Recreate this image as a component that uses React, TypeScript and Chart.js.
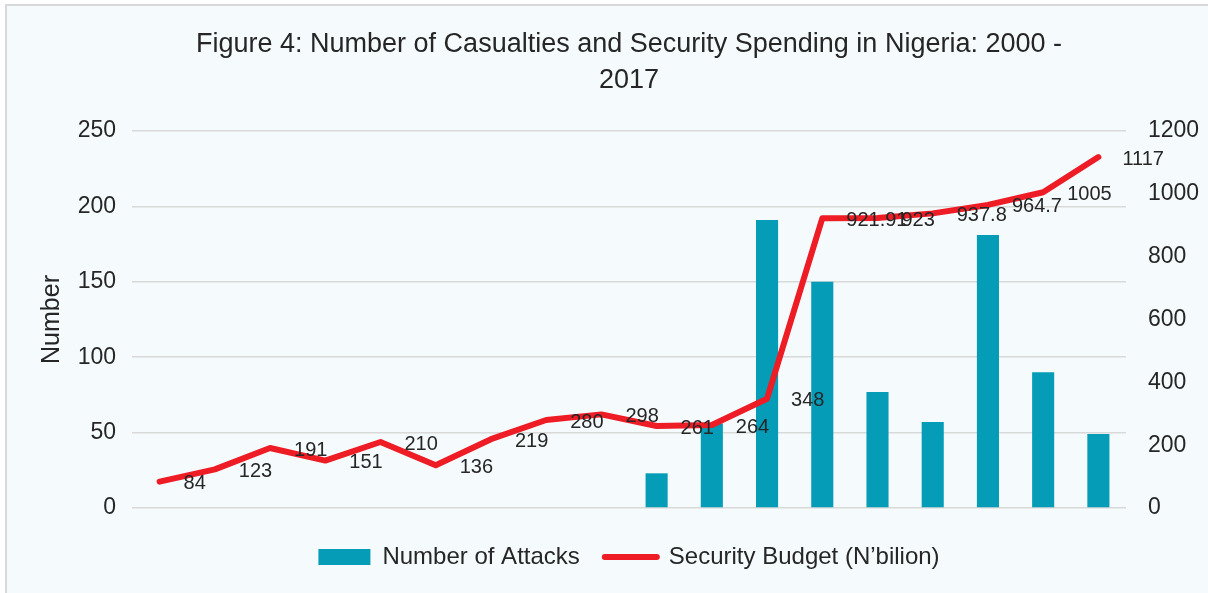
import React, { useEffect, useRef } from 'react';
import { Chart, registerables } from 'chart.js';

Chart.register(...registerables);

const years = ['2000', '2001', '2002', '2003', '2004', '2005', '2006', '2007', '2008', '2009', '2010', '2011', '2012', '2013', '2014', '2015', '2016', '2017'];
const attacks = [null, null, null, null, null, null, null, null, null, 23, 56, 191, 150, 77, 57, 181, 90, 49];
const budget = [84, 123, 191, 151, 210, 136, 219, 280, 298, 261, 264, 348, 921.91, 923, 937.8, 964.7, 1005, 1117];
const titleLines = ['Figure 4: Number of Casualties and Security Spending in Nigeria: 2000 -', '2017'];
const seriesNames = ['Number of Attacks', 'Security Budget (N\u2019bilion)'];
const leftAxisTitle = 'Number';

const FONT = '"Liberation Sans", Arial, Helvetica, sans-serif';
const TEXT = '#262626';
const TEAL = '#049CB6';
const RED = '#EE1C25';
const GRID = '#D9D9D9';

const valueLabels = {
  id: 'valueLabels',
  afterDatasetsDraw(chart: any) {
    const meta = chart.getDatasetMeta(1);
    const ctx = chart.ctx;
    ctx.save();
    ctx.font = `20px ${FONT}`;
    ctx.fillStyle = TEXT;
    ctx.textAlign = 'left';
    ctx.textBaseline = 'middle';
    meta.data.forEach((pt: any, i: number) => {
      ctx.fillText(String(budget[i]), pt.x + 24, pt.y + 2);
    });
    ctx.restore();
  },
};

export default function App() {
  const ref = useRef<HTMLCanvasElement | null>(null);

  useEffect(() => {
    if (!ref.current) return;
    const chart = new Chart(ref.current, {
      type: 'bar',
      data: {
        labels: years,
        datasets: [
          {
            type: 'bar',
            label: seriesNames[0],
            data: attacks as any,
            backgroundColor: TEAL,
            borderWidth: 0,
            yAxisID: 'y',
            order: 1,
            barPercentage: 0.4,
            categoryPercentage: 1,
          },
          {
            type: 'line',
            label: seriesNames[1],
            data: budget,
            borderColor: RED,
            backgroundColor: RED,
            borderWidth: 6,
            pointRadius: 0,
            tension: 0,
            borderCapStyle: 'round',
            borderJoinStyle: 'round',
            yAxisID: 'y1',
            order: 0,
          } as any,
        ],
      },
      options: {
        responsive: false,
        animation: false,
        layout: { padding: { left: 50, right: 0, top: 0, bottom: 14 } },
        scales: {
          x: {
            display: true,
            grid: { display: false },
            ticks: { display: false },
            border: { display: false },
            afterFit: (s: any) => { s.height = 12; },
          },
          y: {
            position: 'left',
            min: 0,
            max: 250,
            ticks: { stepSize: 50, padding: 16, color: TEXT, font: { family: FONT, size: 23 }, callback: (v: any) => String(v) },
            grid: { color: GRID, lineWidth: 1.5, drawTicks: false },
            border: { display: false },
            title: {
              display: true,
              text: leftAxisTitle,
              color: TEXT,
              font: { family: FONT, size: 25 },
              padding: { top: -13, bottom: 0 },
            },
            afterFit: (s: any) => { s.width = 82; },
          },
          y1: {
            position: 'right',
            min: 0,
            max: 1200,
            ticks: { stepSize: 200, padding: 22, color: TEXT, font: { family: FONT, size: 23 }, callback: (v: any) => String(v) },
            grid: { display: false, drawTicks: false },
            border: { display: false },
            afterFit: (s: any) => { s.width = 82; },
          },
        } as any,
        plugins: {
          title: {
            display: true,
            text: titleLines,
            color: TEXT,
            font: { family: FONT, size: 27, weight: 'normal', lineHeight: 36 / 27 },
            padding: { top: 27, bottom: 32 },
          },
          legend: {
            position: 'bottom',
            labels: {
              usePointStyle: true,
              pointStyleWidth: 52,
              boxHeight: 16,
              padding: 25,
              color: TEXT,
              font: { family: FONT, size: 24 },
              sort: (a: any, b: any) => a.datasetIndex - b.datasetIndex,
              generateLabels: (c: any) => {
                const items = (Chart.defaults.plugins.legend.labels as any).generateLabels(c);
                return items.map((it: any) =>
                  it.datasetIndex === 0
                    ? { ...it, pointStyle: 'rect', lineWidth: 0, fillStyle: TEAL }
                    : { ...it, pointStyle: 'line', lineWidth: 6, strokeStyle: RED, lineCap: 'round' }
                );
              },
            },
          },
          tooltip: { enabled: false },
        },
      } as any,
      plugins: [valueLabels],
    });
    return () => chart.destroy();
  }, []);

  return (
    <div style={{ position: 'fixed', left: 0, top: 0, width: 1208, height: 593, background: '#ffffff', overflow: 'hidden' }}>
      <div
        style={{
          position: 'absolute',
          left: 5,
          top: 4,
          width: 1300,
          height: 700,
          border: `2px solid ${GRID}`,
          background: '#F5FAFD',
        }}
      />
      <canvas ref={ref} width={1208} height={593} style={{ position: 'absolute', left: 0, top: 0, width: 1208, height: 593 }} />
    </div>
  );
}
